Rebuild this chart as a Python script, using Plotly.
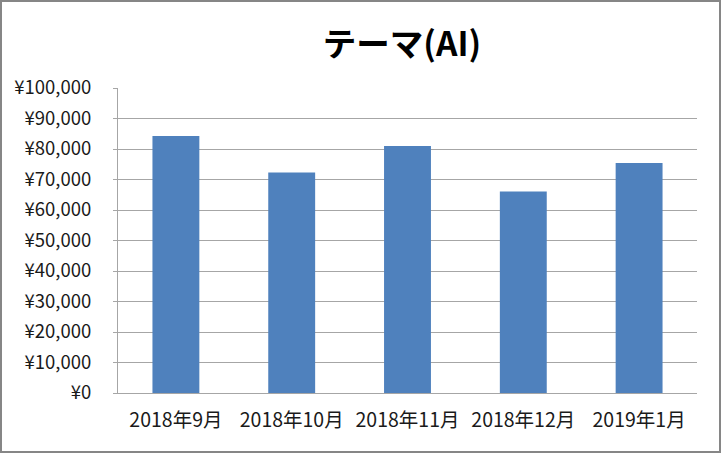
import plotly.graph_objects as go

categories = ["2018年9月", "2018年10月", "2018年11月", "2018年12月", "2019年1月"]
values = [84300, 72300, 81000, 66100, 75400]
title_text = "テーマ(AI)"

W, H = 721, 453
L, R, T, B = 118, 24, 88, 60
pw, ph = W - L - R, H - T - B

fig = go.Figure(go.Bar(x=categories, y=values, marker=dict(color="#4F81BD", line=dict(width=0))))

fig.update_layout(
    width=W, height=H,
    margin=dict(l=L, r=R, t=T, b=B),
    paper_bgcolor="white", plot_bgcolor="white",
    bargap=0.595,
    font=dict(family="Noto Sans CJK JP", size=18, color="#1a1a1a"),
    title=dict(text="<b>" + title_text + "</b>", x=402 / W, xanchor="center",
               y=1 - 44 / H, yanchor="middle",
               font=dict(family="Noto Sans CJK JP", size=33.5, color="black")),
    showlegend=False,
)
fig.update_yaxes(range=[0, 100000], dtick=10000, tickprefix="¥", tickformat=",d",
                 showgrid=True, gridcolor="#A6A6A6", gridwidth=1,
                 showline=True, linecolor="#A6A6A6", linewidth=1,
                 ticks="outside", ticklen=4, tickcolor="#A6A6A6",
                 ticklabelstandoff=18, zeroline=False,
                 tickfont=dict(size=18.5))
fig.update_xaxes(showline=True, linecolor="#A6A6A6", linewidth=1, ticks="",
                 ticklabelstandoff=10, tickfont=dict(size=19.5))

fig.add_shape(type="rect", xref="paper", yref="paper",
              x0=-(L - 1) / pw, x1=1 + (R - 1) / pw,
              y0=-(B - 1) / ph, y1=1 + (T - 1) / ph,
              line=dict(color="#868686", width=2), fillcolor="rgba(0,0,0,0)", layer="above")

fig.write_html("out.html", config={"displayModeBar": False},
               post_script="document.body.style.margin='0';document.body.style.overflow='hidden';")
